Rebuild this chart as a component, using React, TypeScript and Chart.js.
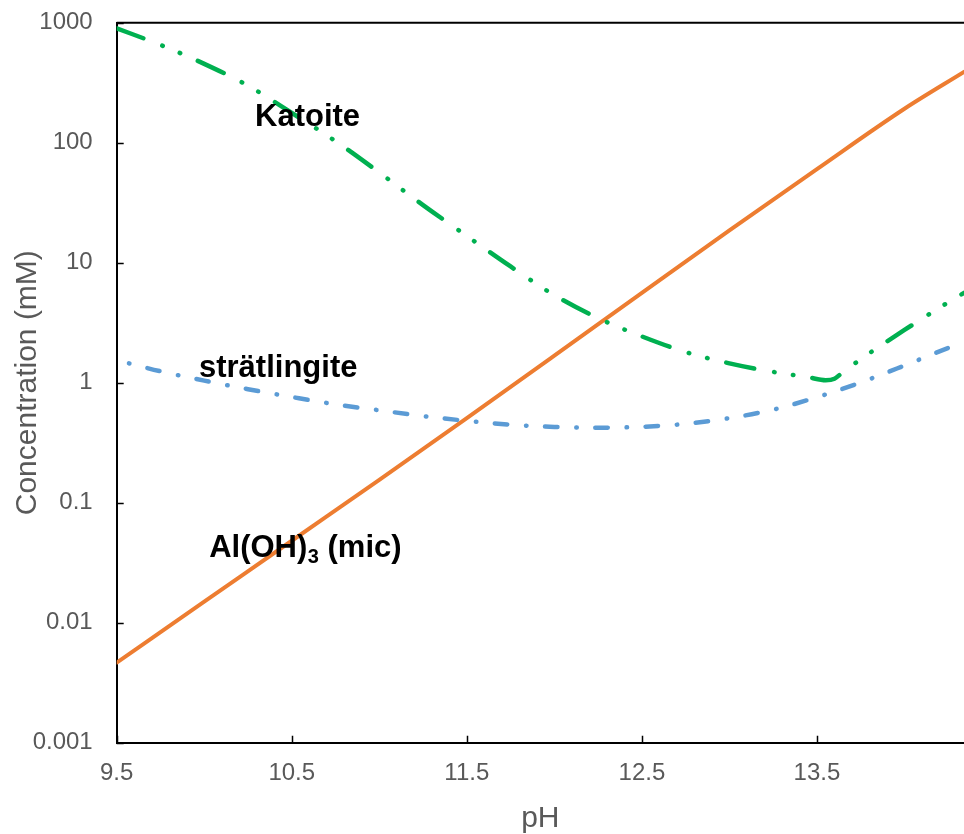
import React, { useEffect, useRef } from "react";
import { Chart, registerables } from "chart.js";

Chart.register(...registerables);

// ---- axis ticks ----
const xTicks = [9.5, 10.5, 11.5, 12.5, 13.5];
const xMin = 9.5;
const xMax = 14.34;
const yTicks = [0.001, 0.01, 0.1, 1, 10, 100, 1000];
const yTickLabels = ["0.001", "0.01", "0.1", "1", "10", "100", "1000"];

// ---- series: Al(OH)3 (mic) ----
const alPH = [9.5, 10.0, 10.5, 11.0, 11.5, 12.0, 12.5, 13.0, 13.5, 14.0, 14.34];
const alConc = [0.00465, 0.01496, 0.0482, 0.155, 0.507, 1.68, 5.6, 18.6, 60.3, 192, 389];

// ---- series: Katoite ----
const katPH = [9.5, 9.75, 10.0, 10.25, 10.5, 10.75, 11.0, 11.25, 11.5, 11.75, 12.0, 12.25, 12.5, 12.75, 13.0, 13.25, 13.45, 13.55, 13.6, 13.65, 13.7, 13.75, 14.0, 14.25, 14.34];
const katConc = [898, 653, 454, 299, 177, 103, 56.4, 30.2, 16.7, 9.3, 5.37, 3.45, 2.43, 1.8, 1.45, 1.23, 1.11, 1.05, 1.08, 1.23, 1.39, 1.57, 2.75, 4.68, 5.6];

// ---- series: strätlingite ----
const strPH = [9.57, 9.75, 10.0, 10.25, 10.5, 10.75, 11.0, 11.25, 11.5, 11.75, 12.0, 12.25, 12.5, 12.75, 13.0, 13.25, 13.5, 13.75, 14.0, 14.25, 14.34];
const strConc = [1.45, 1.245, 1.04, 0.883, 0.76, 0.66, 0.589, 0.527, 0.481, 0.447, 0.428, 0.422, 0.429, 0.454, 0.507, 0.596, 0.757, 1.005, 1.39, 1.95, 2.17];

// ---- in-plot labels (data coordinates of left/baseline) ----
const labelKatoite = { text: "Katoite", ph: 10.29, conc: 137.7 };
const labelStr = { text: "strätlingite", ph: 9.97, conc: 1.116 };
const labelAl = { main: "Al(OH)", sub: "3", tail: " (mic)", ph: 10.028, conc: 0.0353 };

const FONT = '"Liberation Sans", Arial, Helvetica, sans-serif';
const GRAY = "#595959";

const toXY = (xs: number[], ys: number[]) => xs.map((x, i) => ({ x, y: ys[i] }));

const framePlugin = {
  id: "frameAndLabels",
  afterDatasetsDraw(chart: any) {
    const { ctx, chartArea, scales } = chart;
    const xs = scales.x;
    const ys = scales.y;
    ctx.save();
    // top frame line
    ctx.strokeStyle = "#000";
    ctx.lineWidth = 2;
    ctx.beginPath();
    ctx.moveTo(chartArea.left, chartArea.top);
    ctx.lineTo(chartArea.right, chartArea.top);
    ctx.stroke();
    // inward tick marks
    ctx.lineWidth = 1.5;
    ctx.beginPath();
    xTicks.forEach((v) => {
      const px = Math.round(xs.getPixelForValue(v)) + 0.5;
      ctx.moveTo(px, chartArea.bottom);
      ctx.lineTo(px, chartArea.bottom - 7);
    });
    yTicks.forEach((v) => {
      const py = Math.round(ys.getPixelForValue(v)) + 0.5;
      ctx.moveTo(chartArea.left, py);
      ctx.lineTo(chartArea.left + 7, py);
    });
    ctx.stroke();

    // annotations
    ctx.fillStyle = "#000";
    ctx.textAlign = "left";
    ctx.textBaseline = "alphabetic";
    ctx.font = `bold 31px ${FONT}`;
    ctx.fillText(labelKatoite.text, xs.getPixelForValue(labelKatoite.ph), ys.getPixelForValue(labelKatoite.conc));
    ctx.fillText(labelStr.text, xs.getPixelForValue(labelStr.ph), ys.getPixelForValue(labelStr.conc));
    let ax = xs.getPixelForValue(labelAl.ph);
    const ay = ys.getPixelForValue(labelAl.conc);
    ctx.fillText(labelAl.main, ax, ay);
    ax += ctx.measureText(labelAl.main).width;
    ctx.font = `bold 20px ${FONT}`;
    ctx.fillText(labelAl.sub, ax + 0.5, ay + 6);
    ax += ctx.measureText(labelAl.sub).width + 0.5;
    ctx.font = `bold 31px ${FONT}`;
    ctx.fillText(labelAl.tail, ax, ay);
    ctx.restore();
  },
};

export default function App() {
  const ref = useRef<HTMLCanvasElement | null>(null);

  useEffect(() => {
    if (!ref.current) return;
    const chart = new Chart(ref.current, {
      type: "line",
      data: {
        datasets: [
          {
            label: "Katoite",
            data: toXY(katPH, katConc),
            borderColor: "#00B050",
            borderWidth: 4.5,
            borderDash: [28.5, 20.3, 0.5, 18.5, 0.5, 19.2],
            borderCapStyle: "round",
            borderJoinStyle: "round",
            pointRadius: 0,
            cubicInterpolationMode: "monotone",
            fill: false,
          },
          {
            label: "strätlingite",
            data: toXY(strPH, strConc),
            borderColor: "#5B9BD5",
            borderWidth: 4.5,
            borderDash: [0.5, 18.5, 12.5, 18.8],
            borderCapStyle: "round",
            borderJoinStyle: "round",
            pointRadius: 0,
            cubicInterpolationMode: "monotone",
            fill: false,
          },
          {
            label: "Al(OH)3 (mic)",
            data: toXY(alPH, alConc),
            borderColor: "#ED7D31",
            borderWidth: 4,
            borderCapStyle: "round",
            borderJoinStyle: "round",
            pointRadius: 0,
            cubicInterpolationMode: "monotone",
            fill: false,
          },
        ],
      },
      options: {
        animation: false,
        responsive: false,
        maintainAspectRatio: false,
        layout: { padding: { top: 22.7, right: 0, left: 0, bottom: 0 } },
        plugins: {
          legend: { display: false },
          tooltip: { enabled: false },
        },
        scales: {
          x: {
            type: "linear",
            position: "bottom",
            min: xMin,
            max: xMax,
            afterBuildTicks: (scale: any) => {
              scale.ticks = xTicks.map((v) => ({ value: v }));
            },
            afterFit: (scale: any) => {
              scale.height = 91.3;
              scale.paddingLeft = 0;
              scale.paddingRight = 0;
            },
            grid: { display: true, drawOnChartArea: false, drawTicks: false },
            border: { display: true, color: "#000", width: 2 },
            ticks: {
              autoSkip: false,
              maxRotation: 0,
              padding: 16,
              color: GRAY,
              font: { family: FONT, size: 24 },
              callback: (v: any) => String(v),
            },
            title: {
              display: true,
              text: "pH",
              color: GRAY,
              font: { family: FONT, size: 30 },
              padding: { top: 0, bottom: -3 },
            },
          },
          y: {
            type: "logarithmic",
            position: "left",
            min: 0.001,
            max: 1000,
            afterBuildTicks: (scale: any) => {
              scale.ticks = yTicks.map((v) => ({ value: v }));
            },
            afterFit: (scale: any) => {
              scale.width = 116.7;
              scale.paddingTop = 0;
              scale.paddingBottom = 0;
            },
            grid: { display: true, drawOnChartArea: false, drawTicks: false },
            border: { display: true, color: "#000", width: 2 },
            ticks: {
              autoSkip: false,
              padding: 24,
              color: GRAY,
              font: { family: FONT, size: 24 },
              callback: (v: any) => {
                const i = yTicks.findIndex((t) => Math.abs(Math.log10(t) - Math.log10(Number(v))) < 1e-6);
                return i >= 0 ? yTickLabels[i] : "";
              },
            },
            title: {
              display: true,
              text: "Concentration (mM)",
              color: GRAY,
              font: { family: FONT, size: 30 },
              padding: { top: 10, bottom: 0 },
            },
          },
        },
      },
      plugins: [framePlugin],
    } as any);
    return () => chart.destroy();
  }, []);

  return (
    <div style={{ position: "absolute", left: 0, top: 0, width: 964, height: 834, background: "#fff" }}>
      <canvas ref={ref} width={964} height={834} style={{ width: 964, height: 834, display: "block" }} />
    </div>
  );
}
